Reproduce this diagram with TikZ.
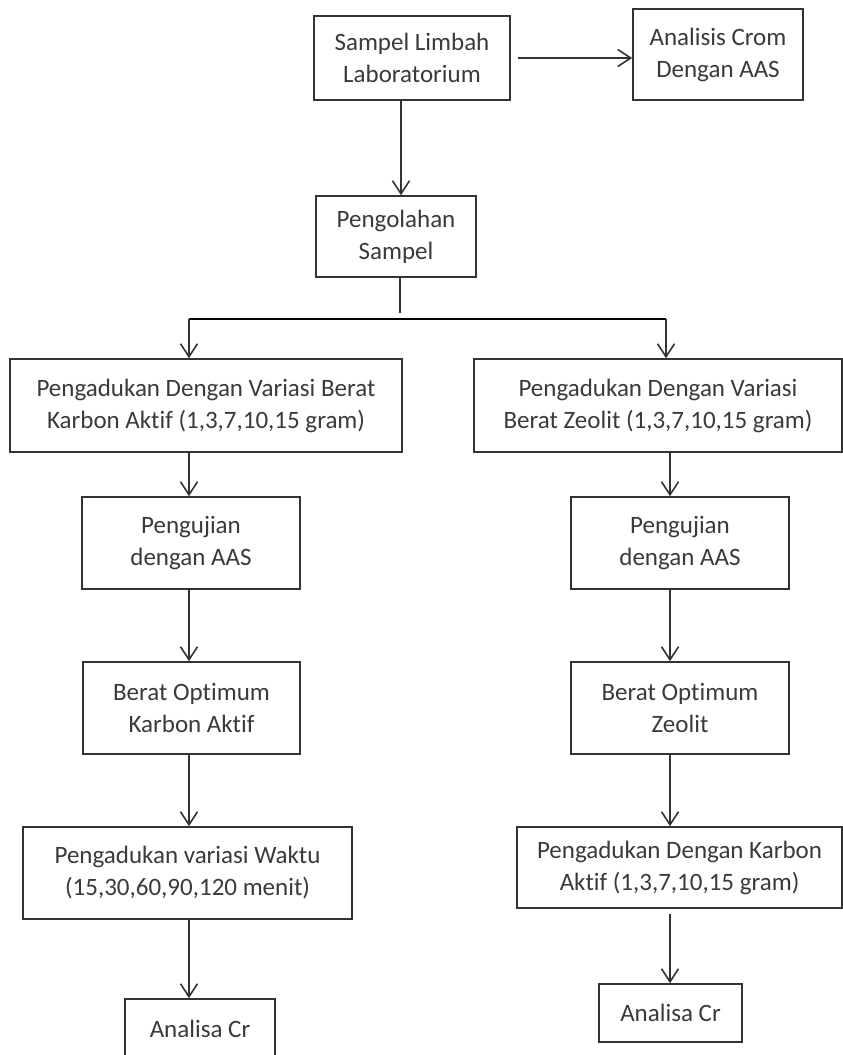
\documentclass[tikz,border=0pt]{standalone}
\usepackage{fontspec}
\setmainfont[Ligatures={NoCommon}]{Carlito}
\usetikzlibrary{arrows.meta}
\definecolor{linec}{HTML}{333333}
\definecolor{textc}{HTML}{3A3A3A}
\begin{document}
\begin{tikzpicture}[x=1pt,y=1pt,
  box/.style={draw=linec, line width=1.6pt, inner sep=0pt, align=center, text=textc,
    font=\fontsize{25}{32}\selectfont},
  arr/.style={draw=linec, line width=1.6pt, -{Straight Barb[length=13pt,width=17pt,line width=1.6pt]}},
  ln/.style={draw=linec, line width=1.6pt},
  bus/.style={draw=black, line width=2pt}]
\useasboundingbox (0,0) rectangle (843,-1055);
\clip (0,0) rectangle (843,-1055);
\fill[white] (0,0) rectangle (843,-1055);

\node[box, minimum width=196, minimum height=84] (b1) at (412,-58) {Sampel Limbah\\Laboratorium};
\node[box, minimum width=170, minimum height=91] (b2) at (718,-54.5) {Analisis Crom\\Dengan AAS};
\node[box, minimum width=160, minimum height=81] (b3) at (396,-236.5) {Pengolahan\\Sampel};
\node[box, minimum width=392, minimum height=93] (b4) at (206,-405.5) {Pengadukan Dengan Variasi Berat\\Karbon Aktif (1,3,7,10,15 gram)};
\node[box, minimum width=368, minimum height=93] (b5) at (658,-405.5) {Pengadukan Dengan Variasi\\Berat Zeolit (1,3,7,10,15 gram)};
\node[box, minimum width=218, minimum height=92] (b6l) at (191,-543) {Pengujian\\dengan AAS};
\node[box, minimum width=218, minimum height=92] (b6r) at (680,-543) {Pengujian\\dengan AAS};
\node[box, minimum width=217, minimum height=92] (b7l) at (191.5,-708) {Berat Optimum\\Karbon Aktif};
\node[box, minimum width=218, minimum height=92] (b7r) at (680,-708) {Berat Optimum\\Zeolit};
\node[box, minimum width=329, minimum height=92] (b8l) at (187.5,-873) {Pengadukan variasi Waktu\\(15,30,60,90,120 menit)};
\node[box, minimum width=325, minimum height=81] (b8r) at (679.5,-867.5) {Pengadukan Dengan Karbon\\Aktif (1,3,7,10,15 gram)};
\node[box, minimum width=150, minimum height=60] (b9l) at (200,-1029) {Analisa Cr};
\node[box, minimum width=143, minimum height=58] (b9r) at (670.5,-1013) {Analisa Cr};

\coordinate (lc) at (189,0);
\coordinate (rc) at (670,0);
\coordinate (hl) at (189,-319);
\coordinate (hr) at (666,-319);
\coordinate (stubend) at (400,-313);

\draw[arr] ([xshift=7]b1.east) -- (b2.west |- b1.east);
\draw[arr] ([xshift=5]b3.north |- b1.south) -- ([xshift=5]b3.north);
\draw[ln] (stubend |- b3.south) -- (stubend);
\draw[bus] (hl) -- (hr);
\draw[arr] (hl) -- (hl |- b4.north);
\draw[arr] (hr) -- (hr |- b5.north);

\draw[arr] (b4.south -| lc) -- (b6l.north -| lc);
\draw[arr] (b6l.south -| lc) -- (b7l.north -| lc);
\draw[arr] (b7l.south -| lc) -- (b8l.north -| lc);
\draw[arr] (b8l.south -| lc) -- (b9l.north -| lc);

\draw[arr] (b5.south -| rc) -- (b6r.north -| rc);
\draw[arr] (b6r.south -| rc) -- (b7r.north -| rc);
\draw[arr] (b7r.south -| rc) -- (b8r.north -| rc);
\draw[arr] ([yshift=-5]b8r.south -| rc) -- (b9r.north -| rc);
\end{tikzpicture}
\end{document}
